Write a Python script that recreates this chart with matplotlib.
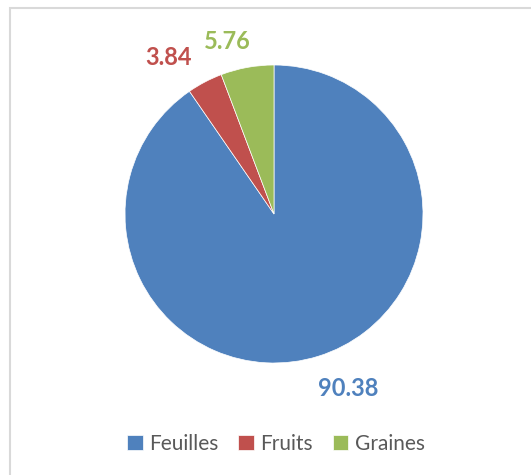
import matplotlib
matplotlib.use("Agg")
import matplotlib.pyplot as plt
from matplotlib.patches import Rectangle

categories = ["Feuilles", "Fruits", "Graines"]
values = [90.38, 3.84, 5.76]
value_labels = ["90.38", "3.84", "5.76"]
colors = ["#4F81BD", "#C0504D", "#9BBB59"]

# label offsets from the pie centre, in radius units
label_pos = [(0.50, -1.17), (-0.71, 1.05), (-0.31, 1.16)]

W, H = 531, 475
fig = plt.figure(figsize=(W / 100, H / 100), dpi=100)

# light grey chart frame (cut off at right and bottom like the screenshot)
fig.patches.append(Rectangle((10 / W, -0.1), 1.2, 1 - 8 / H + 0.1,
                             transform=fig.transFigure, fill=False,
                             edgecolor="#D9D9D9", linewidth=1.5))

cx, cy, r = 274, 214, 149
ax = fig.add_axes([(cx - r) / W, (H - cy - r) / H, 2 * r / W, 2 * r / H])
wedges, _ = ax.pie(values, colors=colors, startangle=90, counterclock=False,
                   radius=1, wedgeprops=dict(linewidth=0.5, edgecolor="white"))
ax.set_xlim(-1, 1)
ax.set_ylim(-1, 1)
ax.axis("off")

for (x, y), txt, c in zip(label_pos, value_labels, colors):
    ax.text(x, y, txt, color=c, fontsize=17, fontweight="bold",
            family="Lato", ha="center", va="center", clip_on=False)

leg = fig.legend(wedges, categories, loc="center", ncol=3, frameon=False,
                 bbox_to_anchor=(276 / W, 1 - 444 / H),
                 prop={"family": "Lato", "size": 15},
                 handlelength=0.75, handleheight=0.75, handletextpad=0.3,
                 columnspacing=0.95)
for t in leg.get_texts():
    t.set_color("#595959")

fig.savefig("out.png", dpi=100)
